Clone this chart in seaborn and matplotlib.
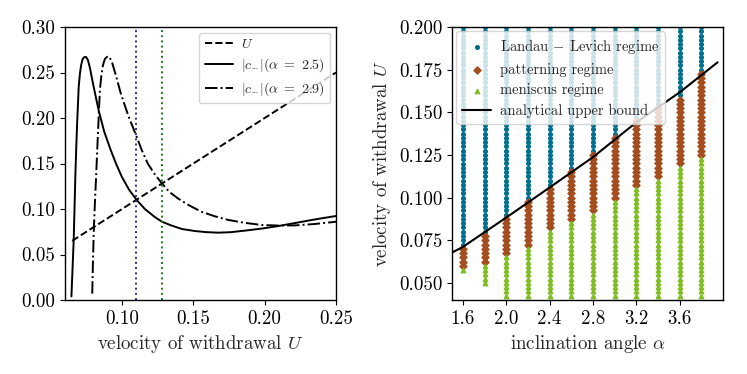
import numpy as np
import pandas as pd
import matplotlib
matplotlib.use("Agg")
import matplotlib.pyplot as plt
import seaborn as sns
from matplotlib.ticker import FormatStrFormatter

# ---- left panel: |c_-| curves against the withdrawal velocity U ----
U_diag = [0.065, 0.25]

U_a25 = [0.0645, 0.0653, 0.0661, 0.0667, 0.0673, 0.0679, 0.0685, 0.0691, 0.0696,
         0.0704, 0.0713, 0.0724, 0.0737, 0.0748, 0.0760, 0.0775, 0.0791, 0.0812,
         0.0838, 0.0875, 0.0920, 0.0960, 0.0998, 0.1050, 0.1102, 0.1160, 0.1226,
         0.1280, 0.1344, 0.1420, 0.1510, 0.1590, 0.1674, 0.1760, 0.1860, 0.1980,
         0.2097, 0.2210, 0.2333, 0.2420, 0.2500]
c_a25 = [0.004, 0.035, 0.066, 0.102, 0.139, 0.168, 0.194, 0.216, 0.234,
         0.248, 0.258, 0.265, 0.267, 0.267, 0.264, 0.255, 0.242, 0.226,
         0.207, 0.185, 0.165, 0.149, 0.1355, 0.121, 0.110, 0.100, 0.0916,
         0.086, 0.082, 0.078, 0.0758, 0.0746, 0.074, 0.0745, 0.0762, 0.0785,
         0.0813, 0.0845, 0.088, 0.0903, 0.0923]

U_a29 = [0.0791, 0.0796, 0.0802, 0.0810, 0.0819, 0.0826, 0.0833, 0.0839, 0.0845,
         0.0855, 0.0866, 0.0880, 0.0901, 0.0915, 0.0932, 0.0960, 0.0991, 0.1045,
         0.1102, 0.1140, 0.1180, 0.1230, 0.1280, 0.1330, 0.1391, 0.1470, 0.1556,
         0.1650, 0.1744, 0.1860, 0.1980, 0.2100, 0.2215, 0.2350, 0.2500]
c_a29 = [0.007, 0.042, 0.077, 0.108, 0.139, 0.165, 0.190, 0.212, 0.231,
         0.247, 0.258, 0.265, 0.268, 0.266, 0.260, 0.245, 0.227, 0.202,
         0.1795, 0.164, 0.150, 0.138, 0.128, 0.119, 0.1117, 0.104, 0.097,
         0.092, 0.088, 0.0848, 0.0824, 0.0818, 0.082, 0.0835, 0.086]

U_cross = [0.11, 0.128]

# ---- right panel: regime map ----
alpha_cols = [1.6, 1.8, 2.0, 2.2, 2.4, 2.6, 2.8, 3.0, 3.2, 3.4, 3.6, 3.8]
U_lowest = [0.0575, 0.05, 0.0425, 0.0425, 0.0425, 0.0425, 0.0425, 0.0425,
            0.0425, 0.0425, 0.0425, 0.0425]
U_pattern = [0.06, 0.0625, 0.0675, 0.0725, 0.0825, 0.0875, 0.0925, 0.10,
             0.1075, 0.1125, 0.12, 0.125]
U_landau = [0.0725, 0.08, 0.09, 0.10, 0.1075, 0.1175, 0.1275, 0.1375,
            0.1475, 0.155, 0.16, 0.175]
U_step = 0.0025
U_top = 0.2

alpha_bound = [1.5, 1.6, 2.0, 2.4, 2.8, 3.2, 3.6, 3.95]
U_bound = [0.0678, 0.0711, 0.0883, 0.1059, 0.1237, 0.1441, 0.1617, 0.1793]

rows = []
for a, lo, pat, ll in zip(alpha_cols, U_lowest, U_pattern, U_landau):
    for u in np.arange(lo, U_top + 1e-9, U_step):
        if u < pat - 1e-9:
            reg = "men"
        elif u < ll - 1e-9:
            reg = "pat"
        else:
            reg = "ll"
        rows.append((a, u, reg))
df = pd.DataFrame(rows, columns=["alpha", "U", "regime"])

sns.set_style("ticks")
plt.rcParams["font.family"] = "serif"
plt.rcParams["font.serif"] = ["cmr10", "DejaVu Serif"]
plt.rcParams["mathtext.fontset"] = "cm"
plt.rcParams["axes.formatter.use_mathtext"] = True
plt.rcParams["axes.linewidth"] = 1.0
plt.rcParams["axes.edgecolor"] = "black"
plt.rcParams["xtick.color"] = "black"
plt.rcParams["ytick.color"] = "black"

fs = 13.6
fig = plt.figure(figsize=(7.47, 3.74), dpi=100)
ax1 = fig.add_axes([65 / 747, 74 / 374, 271 / 747, 273 / 374])
ax2 = fig.add_axes([452 / 747, 74 / 374, 271 / 747, 273 / 374])

ax1.plot(U_diag, U_diag, color="black", ls="--", lw=1.4, label="$U$")
sns.lineplot(x=U_a25, y=c_a25, color="black", lw=1.4, sort=False, estimator=None,
             label=r"$|c_{-}|(\alpha\ =\ 2.5)$", ax=ax1)
sns.lineplot(x=U_a29, y=c_a29, color="black", lw=1.4, ls="-.", sort=False,
             estimator=None, label=r"$|c_{-}|(\alpha\ =\ 2.9)$", ax=ax1)
ax1.axvline(U_cross[0], color="#2b2b9a", ls=":", lw=1.4)
ax1.axvline(U_cross[1], color="#1f7a1f", ls=":", lw=1.4)
ax1.set_xlim(0.06, 0.25)
ax1.set_ylim(0, 0.3)
ax1.set_xticks([0.10, 0.15, 0.20, 0.25])
ax1.set_yticks(np.arange(0, 0.31, 0.05))
ax1.xaxis.set_major_formatter(FormatStrFormatter("%.2f"))
ax1.yaxis.set_major_formatter(FormatStrFormatter("%.2f"))
ax1.set_xlabel("velocity of withdrawal $U$", fontsize=fs)
ax1.tick_params(labelsize=fs)
ax1.legend(loc="upper right", fontsize=10, labelspacing=0.4,
           borderaxespad=0.4, handletextpad=0.6)

styles = {
    "ll": ("#00708e", "o", 7, r"Landau $-$ Levich regime"),
    "pat": ("#a44d1e", "D", 13, "patterning regime"),
    "men": ("#80bd22", "^", 10, "meniscus regime"),
}
for reg in ["ll", "pat", "men"]:
    col, mk, sz, lab = styles[reg]
    sub = df[df["regime"] == reg]
    sns.scatterplot(x=sub["alpha"], y=sub["U"], color=col, marker=mk, s=sz,
                    edgecolor=col, linewidth=1.0, label=lab, ax=ax2)
ax2.plot(alpha_bound, U_bound, color="black", lw=1.5, label="analytical upper bound")
ax2.set_xlim(1.5, 4.0)
ax2.set_ylim(0.04, 0.2)
ax2.set_xticks([1.6, 2.0, 2.4, 2.8, 3.2, 3.6])
ax2.set_yticks(np.arange(0.05, 0.2001, 0.025))
ax2.xaxis.set_major_formatter(FormatStrFormatter("%.1f"))
ax2.yaxis.set_major_formatter(FormatStrFormatter("%.3f"))
ax2.set_xlabel(r"inclination angle $\alpha$", fontsize=fs)
ax2.set_ylabel("velocity of withdrawal $U$", fontsize=fs)
ax2.tick_params(labelsize=fs)
ax2.legend(loc="upper left", fontsize=10.5, labelspacing=0.45,
           borderaxespad=0.3, handletextpad=0.6)

fig.savefig("out.png", dpi=100)
